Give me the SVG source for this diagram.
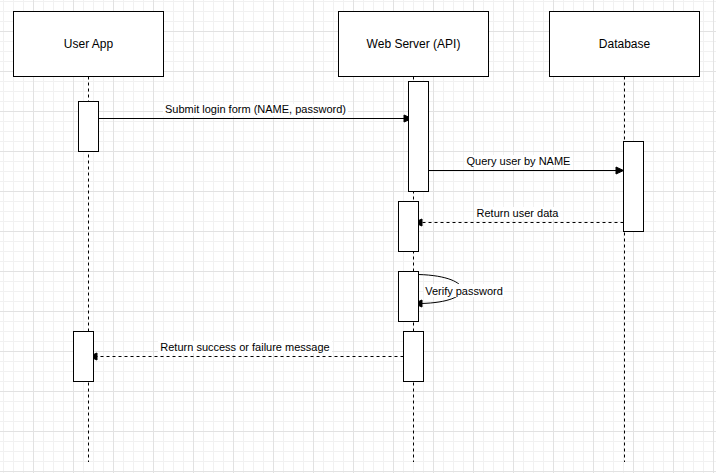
<svg xmlns="http://www.w3.org/2000/svg" width="716" height="473" viewBox="0 0 716 473">
<defs>
<pattern id="minor" width="10" height="10" patternUnits="userSpaceOnUse" x="3" y="1">
<path d="M0.5 0V10M0 0.5H10" fill="none" stroke="#f1f1f1" stroke-width="1"/>
</pattern>
<pattern id="major" width="40" height="40" patternUnits="userSpaceOnUse" x="33" y="31">
<path d="M0.5 0V40M0 0.5H40" fill="none" stroke="#e2e2e2" stroke-width="1"/>
</pattern>
<style>
.box{fill:#fff;stroke:#000;stroke-width:1}
.life{fill:none;stroke:#000;stroke-width:1;stroke-dasharray:3 3}
.msg{fill:none;stroke:#000;stroke-width:1}
.ret{fill:none;stroke:#000;stroke-width:1;stroke-dasharray:3 3}
.head{fill:#000;stroke:#000;stroke-width:1}
.lbl{font-family:"Liberation Sans",Arial,sans-serif;font-size:11px;fill:#000;text-anchor:middle}
.title{font-family:"Liberation Sans",Arial,sans-serif;font-size:12px;fill:#000;text-anchor:middle}
.bg{fill:#fff}
</style>
</defs>
<rect width="716" height="473" fill="#fff"/>
<rect width="716" height="473" fill="url(#minor)"/>
<rect width="716" height="473" fill="url(#major)"/>

<g id="lifelines">
<line class="life" x1="88.5" y1="76.5" x2="88.5" y2="462"/>
<line class="life" x1="413.5" y1="76.5" x2="413.5" y2="462"/>
<line class="life" x1="624.5" y1="76.5" x2="624.5" y2="462"/>
</g>

<g id="connectors">
<g id="msg1">
<line class="msg" x1="98.5" y1="118.5" x2="406" y2="118.5"/>
<polygon class="head" points="404,115 412,118.5 404,122"/>
<rect class="bg" x="163" y="104" width="185" height="12"/>
<text class="lbl" x="255.5" y="113">Submit login form (NAME, password)</text>
</g>
<g id="msg2">
<line class="msg" x1="428.5" y1="170.5" x2="617" y2="170.5"/>
<polygon class="head" points="616,167 623.5,170.5 616,174"/>
<rect class="bg" x="465" y="155" width="107" height="12"/>
<text class="lbl" x="518.5" y="164.5">Query user by NAME</text>
</g>
<g id="msg3">
<line class="ret" x1="623.5" y1="222.5" x2="421" y2="222.5"/>
<polygon class="head" points="422,219 414,222.5 422,226"/>
<rect class="bg" x="475" y="207" width="85" height="12"/>
<text class="lbl" x="517.5" y="216.5">Return user data</text>
</g>
<g id="msg4">
<path class="msg" d="M418.5 274.5C474 276 478 302 421 303.5"/>
<polygon class="head" points="422,300 414,303.5 422,307"/>
<rect class="bg" x="424" y="284" width="80" height="13"/>
<text class="lbl" x="464" y="294.5">Verify password</text>
</g>
<g id="msg5">
<line class="ret" x1="403.5" y1="356.5" x2="96" y2="356.5"/>
<polygon class="head" points="97,353 89,356.5 97,360"/>
<rect class="bg" x="158" y="341" width="174" height="12"/>
<text class="lbl" x="245" y="351">Return success or failure message</text>
</g>
</g>

<g id="user-app">
<rect class="box" x="13.5" y="11.5" width="150" height="65"/>
<text class="title" x="88.5" y="48">User App</text>
</g>
<g id="web-server">
<rect class="box" x="338.5" y="11.5" width="150" height="65"/>
<text class="title" x="413.5" y="48">Web Server (API)</text>
</g>
<g id="database">
<rect class="box" x="549.5" y="11.5" width="150" height="65"/>
<text class="title" x="624.5" y="48">Database</text>
</g>

<g id="act-user-1"><rect class="box" x="78.5" y="101.5" width="20" height="50"/></g>
<g id="act-web-1"><rect class="box" x="408.5" y="81.5" width="20" height="110"/></g>
<g id="act-db-1"><rect class="box" x="623.5" y="141.5" width="20" height="90"/></g>
<g id="act-web-2"><rect class="box" x="398.5" y="201.5" width="20" height="50"/></g>
<g id="act-web-3"><rect class="box" x="398.5" y="271.5" width="20" height="50"/></g>
<g id="act-web-4"><rect class="box" x="403.5" y="331.5" width="20" height="50"/></g>
<g id="act-user-2"><rect class="box" x="73.5" y="331.5" width="20" height="50"/></g>
</svg>
